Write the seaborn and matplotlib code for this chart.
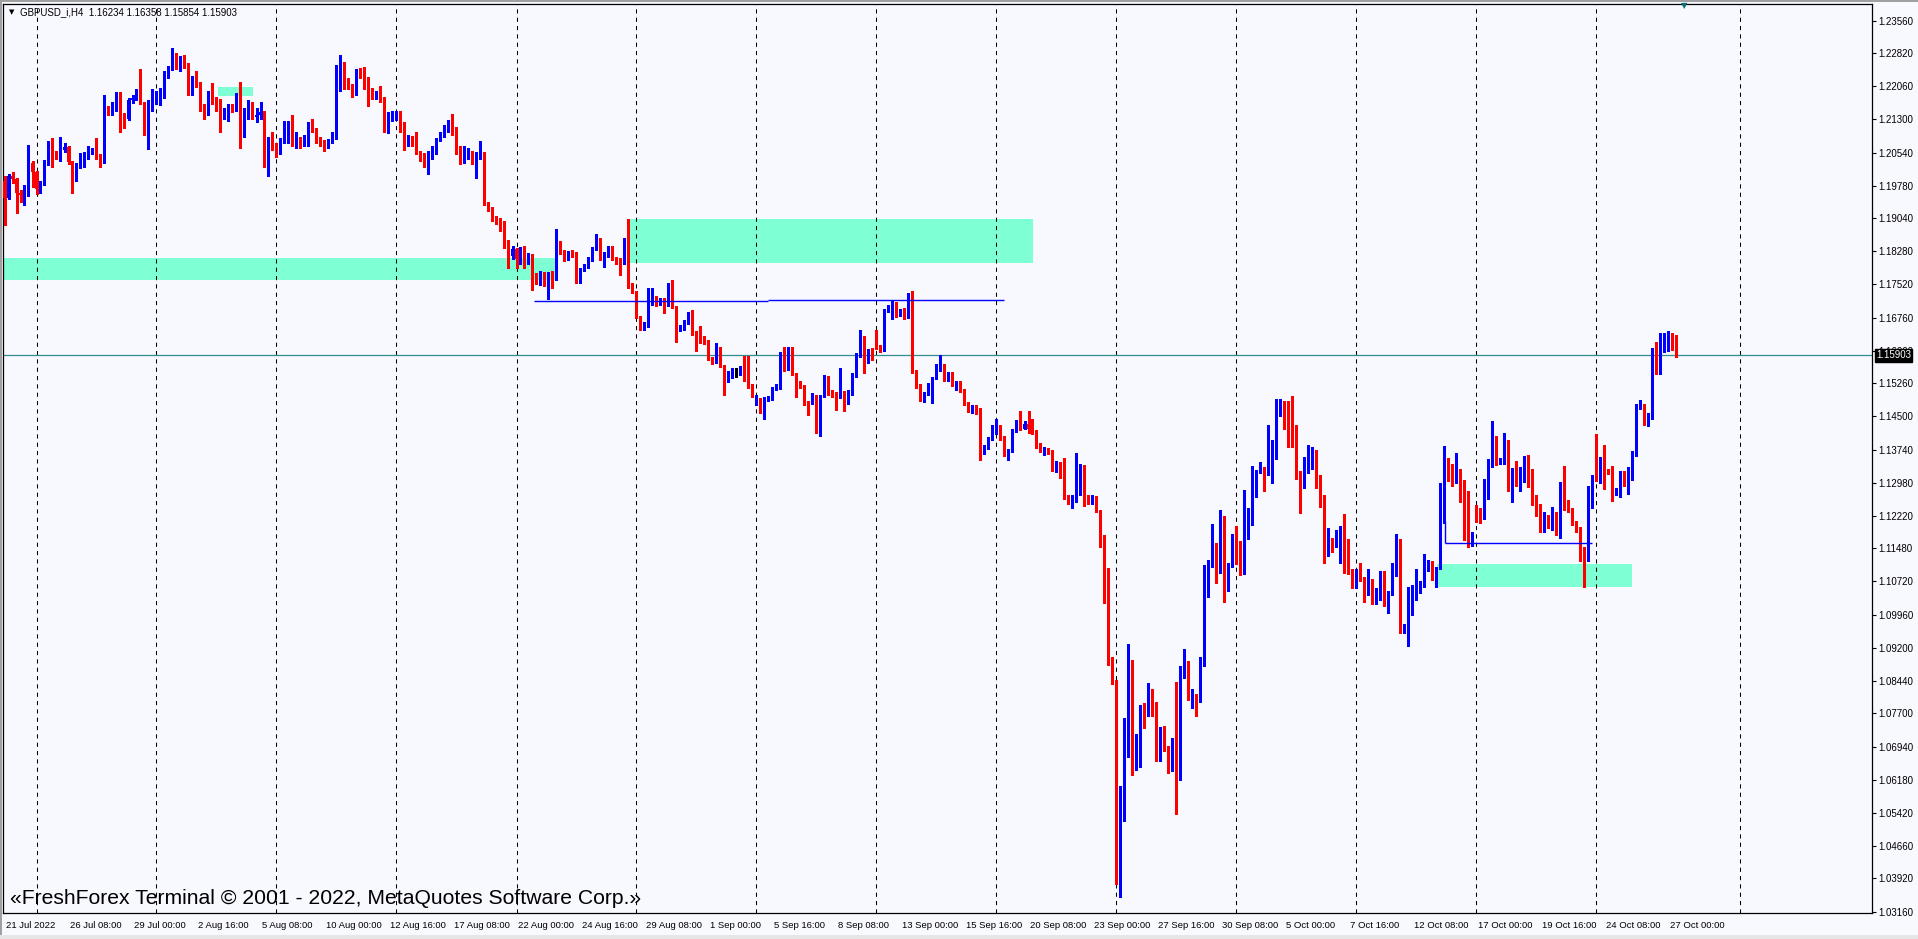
import numpy as np
import pandas as pd
import matplotlib
matplotlib.use("Agg")
import matplotlib.pyplot as plt
import matplotlib.transforms as mtransforms
import seaborn as sns

# ---- data (GBPUSD_i, H4) -------------------------------------------------
first_open = 1.1990
# opens follow the previous close except after a weekend gap
gap_opens = {158: 1.1730, 188: 1.1480, 218: 1.1640, 278: 1.0797, 368: 1.1236, 398: 1.1392}

closes = [
    1.1950, 1.2000, 1.1994, 1.1962, 1.1958, 1.1962, 1.2030, 1.2010, 1.1970, 1.1985,
    1.2030, 1.2070, 1.2050, 1.2046, 1.2060, 1.2066, 1.2032, 1.2000, 1.2025, 1.2028,
    1.2045, 1.2061, 1.2062, 1.2048, 1.2038, 1.2155, 1.2148, 1.2163, 1.2185, 1.2140,
    1.2130, 1.2175, 1.2178, 1.2187, 1.2168, 1.2105, 1.2168, 1.2180, 1.2183, 1.2187,
    1.2232, 1.2247, 1.2277, 1.2262, 1.2270, 1.2256, 1.2191, 1.2223, 1.2213, 1.2163,
    1.2146, 1.2182, 1.2178, 1.2172, 1.2140, 1.2146, 1.2159, 1.2155, 1.2166, 1.2111,
    1.2145, 1.2159, 1.2136, 1.2140, 1.2147, 1.2026, 1.2079, 1.2069, 1.2058, 1.2079,
    1.2085, 1.2123, 1.2075, 1.2078, 1.2076, 1.2084, 1.2120, 1.2107, 1.2083, 1.2075,
    1.2068, 1.2080, 1.2093, 1.2220, 1.2248, 1.2214, 1.2210, 1.2190, 1.2243, 1.2236,
    1.2225, 1.2199, 1.2186, 1.2190, 1.2178, 1.2110, 1.2138, 1.2142, 1.2145, 1.2113,
    1.2075, 1.2090, 1.2084, 1.2054, 1.2045, 1.2038, 1.2052, 1.2062, 1.2083, 1.2098,
    1.2107, 1.2121, 1.2102, 1.2063, 1.2039, 1.2049, 1.2050, 1.2040, 1.2050, 1.2052,
    1.1938, 1.1930, 1.1906, 1.1900, 1.1894, 1.1846, 1.1817, 1.1833, 1.1810, 1.1833,
    1.1808, 1.1820, 1.1774, 1.1764, 1.1778, 1.1764, 1.1778, 1.1764, 1.1850, 1.1829,
    1.1812, 1.1825, 1.1822, 1.1772, 1.1786, 1.1793, 1.1812, 1.1835, 1.1845, 1.1818,
    1.1822, 1.1835, 1.1813, 1.1807, 1.1801, 1.1854, 1.1751, 1.1736, 1.1678, 1.1652,
    1.1659, 1.1717, 1.1723, 1.1708, 1.1717, 1.1705, 1.1740, 1.1701, 1.1652, 1.1656,
    1.1666, 1.1684, 1.1640, 1.1637, 1.1631, 1.1625, 1.1583, 1.1576, 1.1593, 1.1568,
    1.1533, 1.1549, 1.1553, 1.1553, 1.1557, 1.1537, 1.1522, 1.1509, 1.1485, 1.1463,
    1.1491, 1.1492, 1.1514, 1.1522, 1.1593, 1.1560, 1.1574, 1.1549, 1.1530, 1.1521,
    1.1480, 1.1479, 1.1497, 1.1433, 1.1497, 1.1539, 1.1505, 1.1500, 1.1495, 1.1505,
    1.1482, 1.1505, 1.1545, 1.1591, 1.1630, 1.1576, 1.1602, 1.1589, 1.1612, 1.1604,
    1.1690, 1.1700, 1.1709, 1.1682, 1.1693, 1.1678, 1.1717, 1.1555, 1.1522, 1.1491,
    1.1503, 1.1522, 1.1537, 1.1557, 1.1566, 1.1537, 1.1549, 1.1524, 1.1528, 1.1509,
    1.1479, 1.1465, 1.1471, 1.1467, 1.1369, 1.1379, 1.1398, 1.1425, 1.1427, 1.1400,
    1.1366, 1.1372, 1.1419, 1.1435, 1.1421, 1.1433, 1.1420, 1.1415, 1.1383, 1.1372,
    1.1375, 1.1369, 1.1331, 1.1343, 1.1316, 1.1266, 1.1259, 1.1262, 1.1327, 1.1335,
    1.1264, 1.1256, 1.1265, 1.1233, 1.1175, 1.1060, 1.0896, 1.0843, 1.0385, 1.0535,
    1.0755, 1.0881, 1.0680, 1.0686, 1.0770, 1.0769, 1.0807, 1.0770, 1.0675, 1.0736,
    1.0692, 1.0648, 1.0692, 1.0670, 1.0863, 1.0890, 1.0803, 1.0810, 1.0797, 1.0881,
    1.1060, 1.1118, 1.1158, 1.1106, 1.1220, 1.1069, 1.1110, 1.1159, 1.1127, 1.1092,
    1.1211, 1.1218, 1.1278, 1.1324, 1.1331, 1.1320, 1.1379, 1.1387, 1.1457, 1.1478,
    1.1440, 1.1433, 1.1421, 1.1321, 1.1289, 1.1330, 1.1366, 1.1368, 1.1289, 1.1266,
    1.1144, 1.1158, 1.1155, 1.1163, 1.1195, 1.1130, 1.1097, 1.1089, 1.1092, 1.1081,
    1.1053, 1.1075, 1.1026, 1.1054, 1.1089, 1.1024, 1.1045, 1.1089, 1.1165, 1.0965,
    1.0970, 1.0998, 1.1036, 1.1058, 1.1063, 1.1102, 1.1114, 1.1089, 1.1102, 1.1213,
    1.1328, 1.1324, 1.1308, 1.1324, 1.1273, 1.1260, 1.1160, 1.1182, 1.1224, 1.1223,
    1.1268, 1.1339, 1.1390, 1.1345, 1.1352, 1.1388, 1.1289, 1.1328, 1.1314, 1.1320,
    1.1341, 1.1321, 1.1260, 1.1243, 1.1194, 1.1219, 1.1213, 1.1222, 1.1184, 1.1257,
    1.1255, 1.1236, 1.1207, 1.1194, 1.1129, 1.1128, 1.1260, 1.1298, 1.1328, 1.1348,
    1.1326, 1.1324, 1.1274, 1.1282, 1.1321, 1.1298, 1.1324, 1.1366, 1.1472, 1.1474,
    1.1438, 1.1453, 1.1604, 1.1555, 1.1611, 1.1627, 1.1633, 1.1623, 1.15903,
]

highs = [
    1.2000, 1.2006, 1.2010, 1.1995, 1.1968, 1.1980, 1.2072, 1.2035, 1.2012, 1.1990,
    1.2036, 1.2080, 1.2088, 1.2058, 1.2090, 1.2075, 1.2070, 1.2034, 1.2030, 1.2052,
    1.2055, 1.2068, 1.2065, 1.2088, 1.2050, 1.2185, 1.2160, 1.2170, 1.2192, 1.2192,
    1.2145, 1.2178, 1.2185, 1.2200, 1.2245, 1.2170, 1.2175, 1.2200, 1.2195, 1.2201,
    1.2240, 1.2252, 1.2293, 1.2282, 1.2275, 1.2278, 1.2258, 1.2230, 1.2240, 1.2216,
    1.2165, 1.2196, 1.2213, 1.2181, 1.2176, 1.2155, 1.2165, 1.2165, 1.2190, 1.2216,
    1.2155, 1.2175, 1.2170, 1.2155, 1.2170, 1.2150, 1.2090, 1.2100, 1.2075, 1.2087,
    1.2127, 1.2127, 1.2141, 1.2100, 1.2090, 1.2095, 1.2125, 1.2132, 1.2110, 1.2090,
    1.2082, 1.2085, 1.2100, 1.2255, 1.2277, 1.2262, 1.2225, 1.2212, 1.2246, 1.2247,
    1.2250, 1.2228, 1.2201, 1.2195, 1.2207, 1.2181, 1.2147, 1.2150, 1.2150, 1.2150,
    1.2125, 1.2095, 1.2093, 1.2100, 1.2058, 1.2052, 1.2058, 1.2070, 1.2088, 1.2102,
    1.2118, 1.2128, 1.2143, 1.2113, 1.2070, 1.2070, 1.2065, 1.2057, 1.2055, 1.2080,
    1.2055, 1.1940, 1.1930, 1.1908, 1.1905, 1.1898, 1.1855, 1.1840, 1.1835, 1.1838,
    1.1840, 1.1825, 1.1822, 1.1778, 1.1783, 1.1780, 1.1780, 1.1782, 1.1879, 1.1852,
    1.1832, 1.1828, 1.1830, 1.1826, 1.1790, 1.1798, 1.1816, 1.1838, 1.1867, 1.1858,
    1.1826, 1.1840, 1.1840, 1.1815, 1.1812, 1.1858, 1.1902, 1.1756, 1.1736, 1.1680,
    1.1665, 1.1743, 1.1743, 1.1726, 1.1722, 1.1720, 1.1755, 1.1762, 1.1703, 1.1660,
    1.1670, 1.1688, 1.1694, 1.1645, 1.1656, 1.1635, 1.1625, 1.1586, 1.1617, 1.1610,
    1.1568, 1.1553, 1.1560, 1.1560, 1.1565, 1.1589, 1.1589, 1.1525, 1.1500, 1.1491,
    1.1495, 1.1497, 1.1518, 1.1525, 1.1598, 1.1610, 1.1610, 1.1610, 1.1550, 1.1532,
    1.1522, 1.1485, 1.1503, 1.1500, 1.1500, 1.1545, 1.1542, 1.1510, 1.1505, 1.1560,
    1.1508, 1.1510, 1.1550, 1.1596, 1.1648, 1.1634, 1.1605, 1.1606, 1.1648, 1.1614,
    1.1695, 1.1706, 1.1714, 1.1712, 1.1697, 1.1698, 1.1732, 1.1738, 1.1557, 1.1525,
    1.1506, 1.1526, 1.1540, 1.1571, 1.1590, 1.1570, 1.1552, 1.1552, 1.1532, 1.1532,
    1.1512, 1.1482, 1.1476, 1.1475, 1.1470, 1.1385, 1.1402, 1.1430, 1.1445, 1.1430,
    1.1405, 1.1375, 1.1422, 1.1441, 1.1463, 1.1440, 1.1463, 1.1445, 1.1418, 1.1388,
    1.1380, 1.1378, 1.1372, 1.1348, 1.1345, 1.1354, 1.1270, 1.1270, 1.1366, 1.1340,
    1.1338, 1.1270, 1.1270, 1.1268, 1.1235, 1.1178, 1.1104, 1.0900, 1.0847, 1.0604,
    1.0760, 1.0930, 1.0892, 1.0723, 1.0789, 1.0793, 1.0839, 1.0827, 1.0797, 1.0740,
    1.0741, 1.0695, 1.0714, 1.0843, 1.0879, 1.0917, 1.0890, 1.0827, 1.0815, 1.0900,
    1.1110, 1.1122, 1.1204, 1.1160, 1.1236, 1.1222, 1.1115, 1.1180, 1.1198, 1.1165,
    1.1282, 1.1240, 1.1337, 1.1328, 1.1346, 1.1333, 1.1430, 1.1396, 1.1489, 1.1489,
    1.1486, 1.1486, 1.1497, 1.1430, 1.1325, 1.1356, 1.1385, 1.1380, 1.1372, 1.1315,
    1.1270, 1.1195, 1.1172, 1.1190, 1.1200, 1.1227, 1.1170, 1.1100, 1.1100, 1.1114,
    1.1083, 1.1100, 1.1078, 1.1058, 1.1095, 1.1095, 1.1050, 1.1114, 1.1180, 1.1170,
    1.0975, 1.1060, 1.1064, 1.1100, 1.1072, 1.1135, 1.1121, 1.1118, 1.1106, 1.1298,
    1.1382, 1.1354, 1.1340, 1.1366, 1.1330, 1.1305, 1.1280, 1.1186, 1.1247, 1.1240,
    1.1306, 1.1352, 1.1440, 1.1404, 1.1355, 1.1411, 1.1396, 1.1332, 1.1347, 1.1335,
    1.1360, 1.1362, 1.1330, 1.1270, 1.1250, 1.1230, 1.1225, 1.1242, 1.1232, 1.1300,
    1.1337, 1.1258, 1.1240, 1.1210, 1.1196, 1.1150, 1.1291, 1.1316, 1.1410, 1.1356,
    1.1385, 1.1330, 1.1337, 1.1285, 1.1325, 1.1325, 1.1335, 1.1370, 1.1478, 1.1488,
    1.1478, 1.1458, 1.1607, 1.1620, 1.1640, 1.1640, 1.1645, 1.1640, 1.16358,
]

lows = [
    1.1888, 1.1948, 1.1985, 1.1916, 1.1940, 1.1933, 1.1955, 1.1975, 1.1960, 1.1962,
    1.1980, 1.2025, 1.2022, 1.2040, 1.2035, 1.2055, 1.2028, 1.1962, 1.1990, 1.2018,
    1.2020, 1.2040, 1.2050, 1.2040, 1.2020, 1.2030, 1.2140, 1.2140, 1.2150, 1.2100,
    1.2110, 1.2128, 1.2168, 1.2175, 1.2165, 1.2095, 1.2062, 1.2150, 1.2165, 1.2164,
    1.2178, 1.2225, 1.2243, 1.2245, 1.2240, 1.2248, 1.2185, 1.2185, 1.2205, 1.2150,
    1.2130, 1.2140, 1.2165, 1.2150, 1.2100, 1.2130, 1.2126, 1.2148, 1.2150, 1.2065,
    1.2090, 1.2130, 1.2130, 1.2125, 1.2130, 1.2020, 1.2001, 1.2060, 1.2045, 1.2050,
    1.2075, 1.2075, 1.2070, 1.2065, 1.2065, 1.2070, 1.2068, 1.2100, 1.2075, 1.2068,
    1.2058, 1.2065, 1.2075, 1.2085, 1.2195, 1.2200, 1.2200, 1.2182, 1.2185, 1.2225,
    1.2200, 1.2160, 1.2176, 1.2176, 1.2170, 1.2100, 1.2098, 1.2126, 1.2128, 1.2100,
    1.2060, 1.2070, 1.2070, 1.2050, 1.2035, 1.2022, 1.2005, 1.2040, 1.2050, 1.2080,
    1.2090, 1.2100, 1.2095, 1.2050, 1.2027, 1.2030, 1.2040, 1.2028, 1.1995, 1.2040,
    1.1935, 1.1920, 1.1898, 1.1890, 1.1875, 1.1835, 1.1790, 1.1810, 1.1790, 1.1800,
    1.1790, 1.1800, 1.1740, 1.1752, 1.1750, 1.1748, 1.1718, 1.1743, 1.1762, 1.1822,
    1.1805, 1.1808, 1.1815, 1.1755, 1.1755, 1.1782, 1.1790, 1.1805, 1.1832, 1.1808,
    1.1793, 1.1815, 1.1808, 1.1800, 1.1774, 1.1798, 1.1745, 1.1732, 1.1675, 1.1648,
    1.1648, 1.1655, 1.1705, 1.1703, 1.1704, 1.1686, 1.1703, 1.1698, 1.1621, 1.1645,
    1.1648, 1.1662, 1.1636, 1.1600, 1.1618, 1.1615, 1.1580, 1.1570, 1.1572, 1.1563,
    1.1499, 1.1528, 1.1538, 1.1540, 1.1545, 1.1532, 1.1515, 1.1495, 1.1476, 1.1457,
    1.1443, 1.1486, 1.1488, 1.1510, 1.1512, 1.1555, 1.1556, 1.1545, 1.1495, 1.1515,
    1.1476, 1.1453, 1.1478, 1.1411, 1.1405, 1.1494, 1.1500, 1.1495, 1.1465, 1.1492,
    1.1463, 1.1478, 1.1500, 1.1540, 1.1585, 1.1550, 1.1572, 1.1580, 1.1605, 1.1598,
    1.1600, 1.1688, 1.1672, 1.1677, 1.1680, 1.1674, 1.1676, 1.1550, 1.1515, 1.1485,
    1.1484, 1.1500, 1.1480, 1.1535, 1.1553, 1.1532, 1.1530, 1.1520, 1.1510, 1.1505,
    1.1475, 1.1460, 1.1458, 1.1455, 1.1350, 1.1365, 1.1375, 1.1395, 1.1410, 1.1396,
    1.1360, 1.1351, 1.1368, 1.1415, 1.1418, 1.1420, 1.1412, 1.1410, 1.1378, 1.1368,
    1.1362, 1.1364, 1.1326, 1.1322, 1.1310, 1.1260, 1.1250, 1.1240, 1.1255, 1.1270,
    1.1245, 1.1250, 1.1250, 1.1230, 1.1152, 1.1022, 1.0880, 1.0838, 1.0380, 1.0350,
    1.0523, 1.0671, 1.0629, 1.0641, 1.0648, 1.0736, 1.0765, 1.0765, 1.0660, 1.0660,
    1.0685, 1.0633, 1.0639, 1.0539, 1.0617, 1.0850, 1.0800, 1.0782, 1.0763, 1.0797,
    1.0878, 1.1037, 1.1106, 1.1068, 1.1092, 1.1026, 1.1051, 1.1105, 1.1112, 1.1088,
    1.1090, 1.1169, 1.1201, 1.1265, 1.1320, 1.1280, 1.1315, 1.1298, 1.1352, 1.1450,
    1.1420, 1.1379, 1.1379, 1.1306, 1.1228, 1.1285, 1.1320, 1.1330, 1.1285, 1.1242,
    1.1114, 1.1130, 1.1140, 1.1150, 1.1114, 1.1092, 1.1090, 1.1056, 1.1056, 1.1072,
    1.1026, 1.1040, 1.1021, 1.1020, 1.1030, 1.1017, 1.0999, 1.1040, 1.1085, 1.0953,
    1.0955, 1.0925, 1.0995, 1.1030, 1.1046, 1.1060, 1.1095, 1.1076, 1.1059, 1.1100,
    1.1205, 1.1302, 1.1290, 1.1297, 1.1255, 1.1168, 1.1152, 1.1153, 1.1209, 1.1205,
    1.1215, 1.1260, 1.1335, 1.1339, 1.1340, 1.1340, 1.1280, 1.1255, 1.1291, 1.1280,
    1.1300, 1.1288, 1.1246, 1.1221, 1.1186, 1.1186, 1.1194, 1.1190, 1.1179, 1.1171,
    1.1236, 1.1230, 1.1202, 1.1186, 1.1120, 1.1060, 1.1118, 1.1240, 1.1302, 1.1298,
    1.1283, 1.1318, 1.1257, 1.1270, 1.1266, 1.1291, 1.1273, 1.1305, 1.1360, 1.1468,
    1.1430, 1.1428, 1.1445, 1.1547, 1.1547, 1.1598, 1.1600, 1.1602, 1.15854,
]

current_price = 1.15903

tick_bars = [0, 16, 32, 48, 64, 80, 96, 112, 128, 144, 160, 176, 192, 208,
             224, 240, 256, 272, 288, 304, 320, 336, 352, 368, 384, 400, 416]
tick_labels = ["21 Jul 2022", "26 Jul 08:00", "29 Jul 00:00", "2 Aug 16:00",
               "5 Aug 08:00", "10 Aug 00:00", "12 Aug 16:00", "17 Aug 08:00",
               "22 Aug 00:00", "24 Aug 16:00", "29 Aug 08:00", "1 Sep 00:00",
               "5 Sep 16:00", "8 Sep 08:00", "13 Sep 00:00", "15 Sep 16:00",
               "20 Sep 08:00", "23 Sep 00:00", "27 Sep 16:00", "30 Sep 08:00",
               "5 Oct 00:00", "7 Oct 16:00", "12 Oct 08:00", "17 Oct 00:00",
               "19 Oct 16:00", "24 Oct 08:00", "27 Oct 00:00"]

price_ticks = [1.23560, 1.22820, 1.22060, 1.21300, 1.20540, 1.19780, 1.19040,
               1.18280, 1.17520, 1.16760, 1.16000, 1.15260, 1.14500, 1.13740,
               1.12980, 1.12220, 1.11480, 1.10720, 1.09960, 1.09200, 1.08440,
               1.07700, 1.06940, 1.06180, 1.05420, 1.04660, 1.03920, 1.03160]

# weekly period separators (bar index of each Monday 00:00)
week_starts = [8, 38, 68, 98, 128, 158, 188, 218, 248, 278, 308, 338, 368, 398, 434]

# supply / demand rectangles: bar from, bar to, price low, price high
zone_start = [-2, 53.4, 156.2, 358.2]
zone_end = [137.9, 62.1, 257.1, 407.0]
zone_low = [1.1762, 1.2183, 1.1802, 1.1060]
zone_high = [1.1812, 1.2205, 1.1901, 1.1112]

# drawn horizontal levels: bar from, bar to, price
level_start = [132.5, 191.0, 360.2]
level_end = [191.0, 250.0, 397.0]
level_price = [1.1714, 1.1717, 1.1160]
# short vertical leg of the lower level
leg_bar = 360.2
leg_low, leg_high = 1.1160, 1.1211


def build_frame():
    """Puts the OHLC lists into one dataframe"""
    df = pd.DataFrame({"close": closes, "high": highs, "low": lows})
    df["bar"] = np.arange(len(df))
    opens = [first_open] + closes[:-1]
    for bar, value in gap_opens.items():
        opens[bar] = value
    df["open"] = opens
    df["high"] = df[["high", "open", "close"]].max(axis=1)
    df["low"] = df[["low", "open", "close"]].min(axis=1)
    df["color"] = np.where(df.close > df.open, "#0000FF",
                           np.where(df.close < df.open, "#FF0000", "#000000"))
    return df


def plot_chart(df):
    bg = "#F8F8FF"
    sns.set_theme(style="white")
    plt.rcParams["font.family"] = ["Liberation Sans", "DejaVu Sans"]

    W, H = 1918, 939
    fig = plt.figure(figsize=(W / 100, H / 100), dpi=100, facecolor=bg)
    ax = fig.add_axes([3 / W, 26 / H, 1869 / W, 909 / H], facecolor=bg)

    # window frame (gray edges of the terminal window)
    fig.patches.append(plt.Rectangle((0, 1 - 2 / H), 1, 2 / H, transform=fig.transFigure,
                                     facecolor="#A0A0A0", edgecolor="none", zorder=0))
    fig.patches.append(plt.Rectangle((0, 0), 2 / W, 1, transform=fig.transFigure,
                                     facecolor="#A0A0A0", edgecolor="none", zorder=0))
    fig.patches.append(plt.Rectangle((0, 0), 1, 4 / H, transform=fig.transFigure,
                                     facecolor="#E6E6E6", edgecolor="none", zorder=0))

    # zones
    for x0, x1, y0, y1 in zip(zone_start, zone_end, zone_low, zone_high):
        ax.fill_between([x0, x1], y0, y1, color="#7FFFD4", linewidth=0, zorder=0.5)

    # weekly separators
    for b in week_starts:
        ax.axvline(b, color="black", linewidth=0.75, linestyle=(0, (4, 4)), zorder=1)

    # current price line
    ax.axhline(current_price, color="#2F8F8F", linewidth=0.9, zorder=2)

    # candles
    ax.vlines(df.bar, df.low, df.high, colors=df.color, linewidth=0.9,
              antialiased=False, zorder=3)
    body = (df.close - df.open).abs().clip(lower=0.00024)
    bottom = df[["open", "close"]].min(axis=1)
    ax.bar(df.bar, body, bottom=bottom, width=0.75, color=df.color,
           linewidth=0, antialiased=False, zorder=3)

    # horizontal levels
    ax.hlines(level_price, level_start, level_end, colors="#0000FF", linewidth=1.0, zorder=4)
    ax.vlines([leg_bar], [leg_low], [leg_high], colors="#0000FF", linewidth=1.0, zorder=4)

    ax.set_xlim(-0.375, 466.875)
    ax.set_ylim(1.03130, 1.23942)

    # axes styling
    for spine in ax.spines.values():
        spine.set_color("black")
        spine.set_linewidth(0.9)
    ax.yaxis.tick_right()
    ax.set_yticks(price_ticks)
    ax.set_yticklabels(["%.5f" % p for p in price_ticks])
    ax.set_xticks(tick_bars)
    ax.set_xticklabels(tick_labels, ha="left")
    ax.tick_params(axis="y", which="both", direction="out", length=3, width=0.8,
                   pad=1.5, labelsize=7, colors="black")
    ax.tick_params(axis="x", which="both", direction="out", length=4, width=0.8,
                   pad=2, labelsize=6.8, colors="black")
    offset = mtransforms.ScaledTranslation(2 / 100, 0, fig.dpi_scale_trans)
    for lab in ax.get_xticklabels():
        lab.set_transform(lab.get_transform() + offset)
    ax.grid(False)

    # current price marker on the axis
    trans = mtransforms.blended_transform_factory(ax.transAxes, ax.transData)
    ax.text(1.0, current_price, "1.15903",
            transform=trans + mtransforms.ScaledTranslation(4 / 100, 0, fig.dpi_scale_trans),
            color="white", fontsize=7, va="center", ha="left", clip_on=False, zorder=10,
            bbox=dict(boxstyle="square,pad=0.15", facecolor="black", edgecolor="black"))

    # header, watermark, shift marker
    fig.text(12 / W, 1 - 12.5 / H, "\u25BC", fontsize=5, family=["DejaVu Sans"],
             ha="center", va="center", color="black")
    fig.text(20 / W, 1 - 12.5 / H, "GBPUSD_i,H4  1.16234 1.16358 1.15854 1.15903",
             fontsize=7, ha="left", va="center", color="black")
    fig.text(10 / W, 1 - 898 / H,
             "\u00abFreshForex Terminal \u00a9 2001 - 2022, MetaQuotes Software Corp.\u00bb",
             fontsize=15.2, ha="left", va="center", color="black")
    fig.text(1684 / W, 1 - 6 / H, "\u25BC", fontsize=6, family=["DejaVu Sans"],
             ha="center", va="center", color="#0A6E6E")

    fig.savefig("out.png", dpi=100, facecolor=bg)


if __name__ == "__main__":
    frame = build_frame()
    plot_chart(frame)
